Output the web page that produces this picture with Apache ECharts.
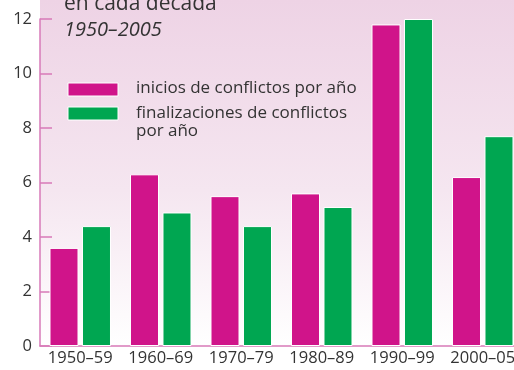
<!DOCTYPE html>
<html>
<head>
<meta charset="utf-8">
<script src="https://cdn.jsdelivr.net/npm/echarts@6/dist/echarts.min.js"></script>
<style>
html,body{margin:0;padding:0;background:#fff;overflow:hidden;}
#chart{width:523px;height:370px;}
</style>
</head>
<body>
<div id="chart"></div>
<script>
// Conflict onsets and terminations per year, averaged by decade
const decades = ['1950–59', '1960–69', '1970–79', '1980–89', '1990–99', '2000–05'];
const onsets = [3.6, 6.3, 5.5, 5.6, 11.8, 6.2];
const terminations = [4.4, 4.9, 4.4, 5.1, 12.0, 7.7];
const yTicks = [0, 2, 4, 6, 8, 10, 12];

const pink = '#d0148a';
const green = '#00a651';
const axisPink = '#d77ab8';
const textGrey = '#333333';
const font = '"Open Sans", "Noto Sans", sans-serif';

const chart = echarts.init(document.getElementById('chart'), null, { renderer: 'canvas' });

chart.setOption({
  animation: false,
  backgroundColor: '#ffffff',
  grid: { left: 40, top: 19, right: 0, bottom: 24, containLabel: false },
  graphic: [
    {
      type: 'rect', z: -10, silent: true,
      shape: { x: 40, y: 0, width: 483, height: 346 },
      style: {
        fill: {
          type: 'linear', x: 0, y: 0, x2: 0, y2: 1,
          colorStops: [
            { offset: 0, color: '#eed3e5' },
            { offset: 0.55, color: '#f5e6f0' },
            { offset: 1, color: '#ffffff' }
          ]
        }
      }
    },
    {
      type: 'text', left: 64, top: -6, silent: true,
      style: { text: 'en cada década', font: '21px ' + font, fill: textGrey }
    },
    {
      type: 'text', left: 64, top: 20, silent: true,
      style: { text: '1950–2005', font: 'italic 20px ' + font, fill: textGrey }
    },
    {
      type: 'rect', silent: true,
      shape: { x: 68, y: 83, width: 50, height: 13 },
      style: { fill: pink, stroke: '#ffffff', lineWidth: 1 }
    },
    {
      type: 'rect', silent: true,
      shape: { x: 68, y: 107, width: 50, height: 13 },
      style: { fill: green, stroke: '#ffffff', lineWidth: 1 }
    },
    {
      type: 'text', left: 136, top: 80, silent: true,
      style: { text: 'inicios de conflictos por año', font: '17px ' + font, fill: textGrey }
    },
    {
      type: 'text', left: 136, top: 104, silent: true,
      style: { text: 'finalizaciones de conflictos\npor año', font: '17px ' + font, fill: textGrey, lineHeight: 18 }
    }
  ],
  xAxis: {
    type: 'category',
    data: decades,
    axisLine: { lineStyle: { color: axisPink, width: 1.5 } },
    axisTick: { show: false },
    axisLabel: { color: textGrey, fontSize: 16.5, fontFamily: font, margin: 4, interval: 0 }
  },
  yAxis: {
    type: 'value',
    min: 0, max: 12, interval: 2,
    axisLine: { show: true, lineStyle: { color: axisPink, width: 1.5 } },
    axisTick: { show: true, inside: true, length: 12, lineStyle: { color: axisPink, width: 1.5 } },
    splitLine: { show: false },
    axisLabel: {
      color: textGrey, fontSize: 16.5, fontFamily: font, margin: 8,
      formatter: v => yTicks.includes(v) ? String(v) : ''
    }
  },
  series: [
    {
      name: 'inicios de conflictos por año',
      type: 'bar',
      data: onsets,
      barWidth: 29,
      barGap: '12%',
      itemStyle: { color: pink, borderColor: '#ffffff', borderWidth: 1 }
    },
    {
      name: 'finalizaciones de conflictos por año',
      type: 'bar',
      data: terminations,
      barWidth: 29,
      itemStyle: { color: green, borderColor: '#ffffff', borderWidth: 1 }
    }
  ]
});
</script>
</body>
</html>
